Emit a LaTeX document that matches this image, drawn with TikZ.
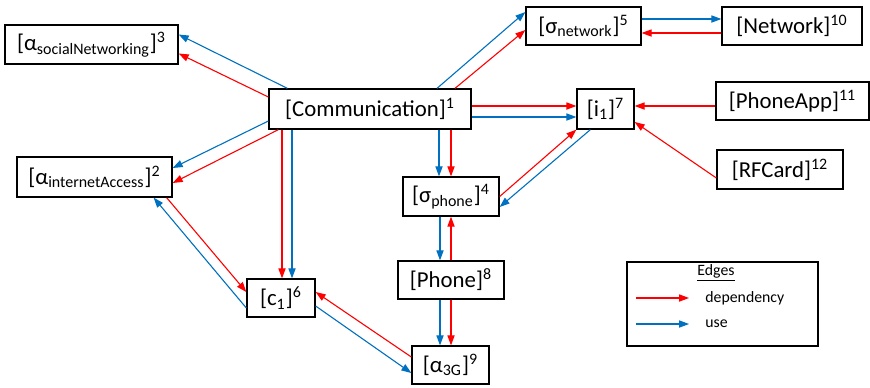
\documentclass[tikz,border=0pt]{standalone}
\usepackage{fontspec}
\setmainfont{Carlito}
\usetikzlibrary{arrows.meta,calc}
\definecolor{ink}{HTML}{000000}
\definecolor{depred}{HTML}{FF0000}
\definecolor{useblue}{HTML}{0070C0}
\tikzset{
  >={Triangle[length=5pt,width=3.6pt]},
  %% nodes
  comp/.style     = {draw=ink, line width=0.65pt, fill=white, inner sep=0pt,
                     align=center, font=\fontsize{11.4}{13}\selectfont},
  %% arrows
  depflow/.style  = {->, draw=depred, line width=0.55pt},
  useflow/.style  = {->, draw=useblue, line width=0.55pt},
}

\begin{document}
\begin{tikzpicture}[
  x=0.5pt, y=-0.5pt,
  legbox/.style = {draw=ink, line width=0.65pt, fill=white, inner sep=0pt,
                   minimum width=95.5pt, minimum height=42pt},
  legtxt/.style = {inner sep=0pt, font=\fontsize{7.9}{9}\selectfont},
]
\useasboundingbox (0,0) rectangle (870,387);

%% ---- components ----
\node[comp, minimum width=101pt, minimum height=20pt] (comm) at (370,109)
   {[Communication]\textsuperscript{1}};
\node[comp, minimum width=77.5pt, minimum height=20pt] (inetacc) at (94.5,177)
   {[α\textsubscript{internetAccess}]\textsuperscript{2}};
\node[comp, minimum width=86.5pt, minimum height=19.5pt] (socnet) at (91.5,44.5)
   {[α\textsubscript{socialNetworking}]\textsuperscript{3}};
\node[comp, minimum width=48pt, minimum height=19.5pt] (sigphone) at (451,196.5)
   {[σ\textsubscript{phone}]\textsuperscript{4}};
\node[comp, minimum width=57.5pt, minimum height=19pt] (signet) at (583.5,26)
   {[σ\textsubscript{network}]\textsuperscript{5}};
\node[comp, minimum width=34pt, minimum height=19pt] (cone) at (281,298)
   {[c\textsubscript{1}]\textsuperscript{6}};
\node[comp, minimum width=28.5pt, minimum height=20pt] (ione) at (605.5,109)
   {[i\textsubscript{1}]\textsuperscript{7}};
\node[comp, minimum width=53pt, minimum height=19pt] (phone) at (451,280)
   {[Phone]\textsuperscript{8}};
\node[comp, minimum width=38.5pt, minimum height=19pt] (athreeg) at (450.5,365)
   {[α\textsubscript{3G}]\textsuperscript{9}};
\node[comp, minimum width=70pt, minimum height=19pt] (network) at (792,26)
   {[Network]\textsuperscript{10}};
\node[comp, minimum width=76.5pt, minimum height=19pt] (phoneapp) at (792.5,101)
   {[PhoneApp]\textsuperscript{11}};
\node[comp, minimum width=63pt, minimum height=19.5pt] (rfcard) at (780,169.5)
   {[RFCard]\textsuperscript{12}};

%% entry points of the vertical pairs
\coordinate (conedep)  at ($(cone.north)+(1,0)$);
\coordinate (coneuse)  at ($(cone.north)+(11,0)$);
\coordinate (sigpuse)  at ($(sigphone.north)+(-12,0)$);
\coordinate (phoneuse) at ($(phone.north)+(-11,0)$);
\coordinate (athdep)   at ($(athreeg.north)+(0.5,0)$);
\coordinate (athuse)   at ($(athreeg.north)+(-10.5,0)$);

%% ---- out of Communication ----
\draw[useflow] ($(comm.north west)+(19,0)$) -- ($(socnet.east)+(0,-10)$);
\draw[depflow] ($(comm.west)+(0,-12)$)      -- ($(socnet.east)+(0,9)$);
\draw[useflow] ($(comm.west)+(0,12)$)       -- ($(inetacc.east)+(0,-9)$);
\draw[depflow] ($(comm.south west)+(10,0)$) -- ($(inetacc.east)+(0,6)$);
\draw[depflow] (conedep |- comm.south) -- (conedep);
\draw[useflow] (coneuse |- comm.south) -- (coneuse);
\draw[useflow] ($(comm.north)+(67,0)$) -- ($(signet.west)+(0,-14)$);
\draw[depflow] ($(comm.north)+(85,0)$) -- ($(signet.west)+(0,4)$);
\draw[depflow] ($(comm.east)+(0,-3)$) -- ($(ione.west)+(0,-3)$);
\draw[useflow] ($(comm.east)+(0,8)$)  -- ($(ione.west)+(0,8)$);
\draw[useflow] (sigpuse |- comm.south) -- (sigpuse);
\draw[depflow] (sigphone.north |- comm.south) -- (sigphone.north);

%% ---- phone chain ----
\draw[depflow] (sigphone.east) -- (ione.south west);
\draw[useflow] ($(ione.south west)+(14,0)$) -- ($(sigphone.east)+(0,10.5)$);
\draw[useflow] (phoneuse |- sigphone.south) -- (phoneuse);
\draw[depflow] (phone.north) -- (phone.north |- sigphone.south);
\draw[useflow] (athuse |- phone.south) -- (athuse);
\draw[depflow] (athdep |- phone.south) -- (athdep);

%% ---- right side ----
\draw[useflow] ($(signet.east)+(0,-7)$) -- ($(network.west)+(0,-7)$);
\draw[depflow] ($(network.west)+(0,7)$) -- ($(signet.east)+(0,7)$);
\draw[depflow] ($(phoneapp.west)+(0,5)$) -- ($(ione.east)+(0,-3)$);
\draw[depflow] ($(rfcard.west)+(0,8.5)$) -- ($(ione.east)+(0,13)$);

%% ---- left loop ----
\draw[depflow] ($(inetacc.south east)+(-6,0)$) -- ($(cone.west)+(0,-6)$);
\draw[useflow] ($(cone.west)+(0,10)$) -- ($(inetacc.south east)+(-19,0)$);
\draw[depflow] ($(athreeg.west)+(0,-8)$) -- ($(cone.east)+(0,-6)$);
\draw[useflow] ($(cone.east)+(0,8)$) -- ($(athreeg.west)+(0,8)$);

%% ---- legend ----
\node[legbox] (legend) at (722.5,304) {};
\node[legtxt] (legtitle) at (716,273) {\underline{Edges}};
\node[legtxt, anchor=west] (deplbl) at (705,298) {dependency};
\node[legtxt, anchor=west] (uselbl) at (705,324) {use};
\coordinate (depfrom) at (636,298);
\coordinate (usefrom) at (636,324);
\draw[depflow] (depfrom) -- ($(deplbl.west)+(-16,0)$);
\draw[useflow] (usefrom) -- ($(deplbl.west |- uselbl.west)+(-16,0)$);
\end{tikzpicture}
\end{document}
